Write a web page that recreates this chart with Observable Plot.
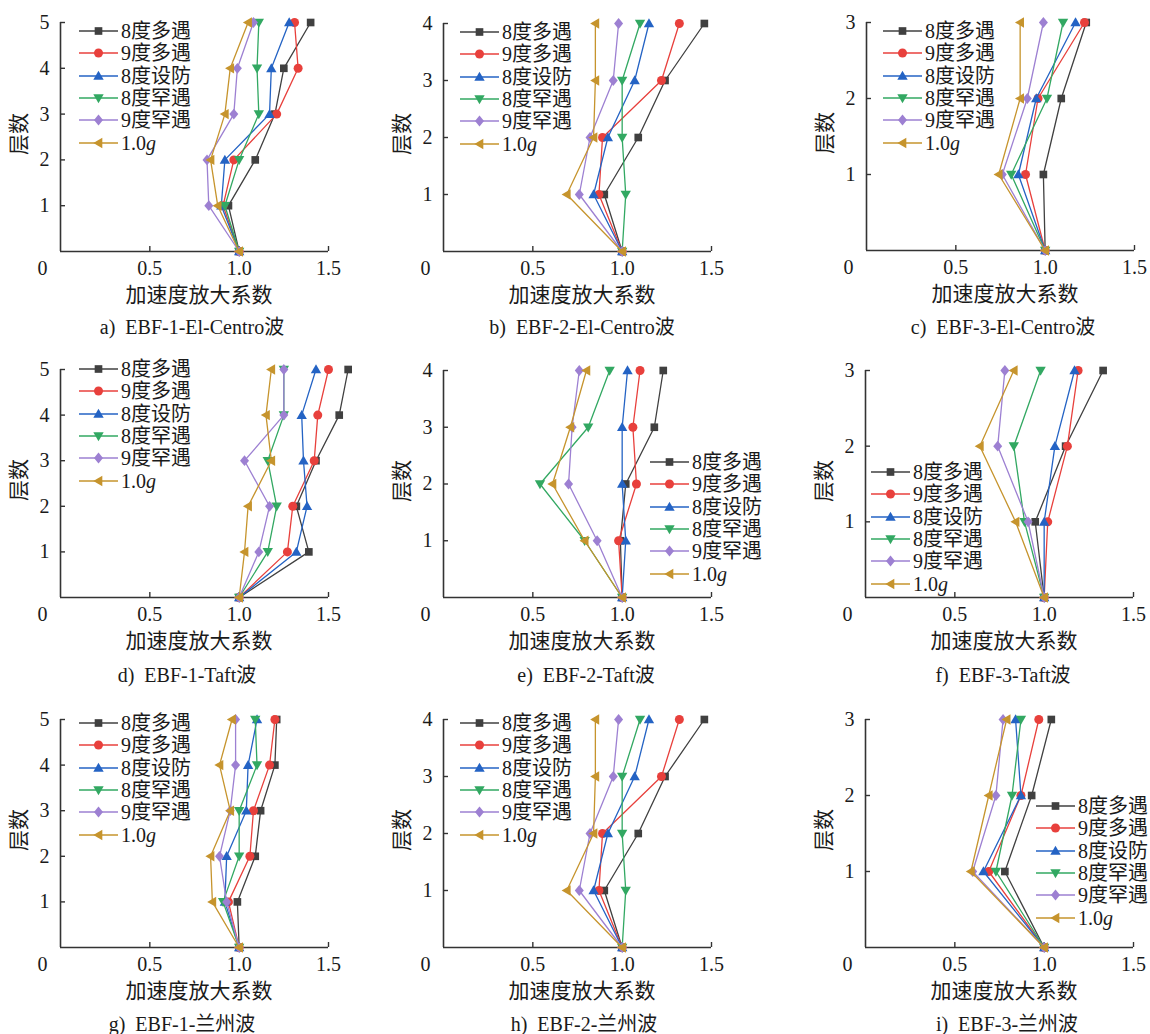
<!DOCTYPE html>
<html><head><meta charset="utf-8">
<script src="https://cdn.jsdelivr.net/npm/d3@7"></script>
<script src="https://cdn.jsdelivr.net/npm/@observablehq/plot@0.6"></script>
<style>
html,body{margin:0;padding:0;background:#fff;overflow:hidden;}
#root{position:relative;width:1150px;height:1034px;overflow:hidden;font-family:"Liberation Serif","Noto Sans CJK SC",serif;color:#1a1a1a;}
.lbl{position:absolute;white-space:pre;transform:translate(-50%,-50%);line-height:1;}
.ylbl{position:absolute;white-space:nowrap;transform:translate(-50%,-50%) rotate(-90deg);font-size:21px;line-height:1;}
.legend{position:absolute;font-size:20px;}
.legrow{display:flex;align-items:center;height:22.3px;white-space:nowrap;}
.legrow span{margin-left:3px;line-height:1;}
.plotwrap{position:absolute;}
.plotwrap svg{overflow:visible;max-width:none !important;}
</style></head><body><div id="root"></div>
<script>
// ---------- data ----------
const series = ["8度多遇", "9度多遇", "8度设防", "8度罕遇", "9度罕遇", "1.0g"];
const xTicks = [0.5, 1.0, 1.5];
const xLabel = "加速度放大系数";
const yLabel = "层数";
const captions = [
  "a)  EBF-1-El-Centro波", "b)  EBF-2-El-Centro波", "c)  EBF-3-El-Centro波",
  "d)  EBF-1-Taft波", "e)  EBF-2-Taft波", "f)  EBF-3-Taft波",
  "g)  EBF-1-兰州波", "h)  EBF-2-兰州波", "i)  EBF-3-兰州波"
];
// rows follow `series`; columns are floor 0, 1, 2, ...
const ebf1ElCentro = [
  [1.0, 0.94, 1.09, 1.20, 1.25, 1.40],
  [1.0, 0.91, 0.97, 1.21, 1.33, 1.31],
  [1.0, 0.90, 0.92, 1.17, 1.18, 1.28],
  [1.0, 0.92, 1.00, 1.11, 1.10, 1.11],
  [1.0, 0.83, 0.82, 0.97, 0.99, 1.08],
  [1.0, 0.88, 0.84, 0.92, 0.95, 1.05]
];
const ebf2ElCentro = [
  [1.0, 0.90, 1.09, 1.24, 1.46],
  [1.0, 0.87, 0.89, 1.22, 1.32],
  [1.0, 0.84, 0.92, 1.07, 1.15],
  [1.0, 1.02, 1.00, 1.00, 1.10],
  [1.0, 0.76, 0.82, 0.95, 0.98],
  [1.0, 0.69, 0.84, 0.85, 0.85]
];
const ebf3ElCentro = [
  [1.0, 0.99, 1.09, 1.23],
  [1.0, 0.89, 0.96, 1.22],
  [1.0, 0.85, 0.95, 1.17],
  [1.0, 0.81, 1.01, 1.10],
  [1.0, 0.76, 0.90, 0.99],
  [1.0, 0.74, 0.86, 0.86]
];
const ebf1Taft = [
  [1.0, 1.39, 1.32, 1.43, 1.56, 1.61],
  [1.0, 1.27, 1.30, 1.42, 1.44, 1.50],
  [1.0, 1.32, 1.38, 1.36, 1.35, 1.43],
  [1.0, 1.16, 1.21, 1.16, 1.25, 1.25],
  [1.0, 1.11, 1.17, 1.03, 1.25, 1.25],
  [1.0, 1.03, 1.05, 1.18, 1.15, 1.18]
];
const ebf2Taft = [
  [1.0, 0.99, 1.02, 1.18, 1.23],
  [1.0, 0.98, 1.08, 1.06, 1.10],
  [1.0, 1.02, 1.00, 1.00, 1.03],
  [1.0, 0.79, 0.54, 0.81, 0.93],
  [1.0, 0.86, 0.70, 0.72, 0.76],
  [1.0, 0.79, 0.61, 0.71, 0.80]
];
const ebf3Taft = [
  [1.0, 0.95, 1.12, 1.33],
  [1.0, 1.02, 1.13, 1.19],
  [1.0, 1.00, 1.06, 1.17],
  [1.0, 0.89, 0.83, 0.98],
  [1.0, 0.91, 0.74, 0.78],
  [1.0, 0.84, 0.64, 0.83]
];
const ebf1Lanzhou = [
  [1.0, 0.99, 1.09, 1.12, 1.20, 1.21],
  [1.0, 0.94, 1.06, 1.08, 1.17, 1.20],
  [1.0, 0.92, 0.93, 1.04, 1.05, 1.10],
  [1.0, 0.91, 1.00, 1.00, 1.10, 1.09],
  [1.0, 0.93, 0.89, 0.95, 0.98, 0.98],
  [1.0, 0.85, 0.84, 0.95, 0.89, 0.96]
];
const ebf2Lanzhou = [
  [1.0, 0.90, 1.09, 1.24, 1.46],
  [1.0, 0.87, 0.89, 1.22, 1.32],
  [1.0, 0.84, 0.92, 1.07, 1.15],
  [1.0, 1.02, 1.00, 1.00, 1.10],
  [1.0, 0.76, 0.82, 0.95, 0.98],
  [1.0, 0.69, 0.84, 0.85, 0.85]
];
const ebf3Lanzhou = [
  [1.0, 0.78, 0.93, 1.04],
  [1.0, 0.69, 0.87, 0.97],
  [1.0, 0.66, 0.87, 0.84],
  [1.0, 0.73, 0.82, 0.87],
  [1.0, 0.60, 0.73, 0.77],
  [1.0, 0.59, 0.69, 0.79]
];

// ---------- styles ----------
const seriesColors = ["#404040", "#e8403c", "#2463c4", "#32a862", "#9d80d2", "#c6942d"];
const mk = (pts) => ({draw(ctx, size) {
  const r = Math.sqrt(size / Math.PI);
  ctx.moveTo(pts[0][0] * r, pts[0][1] * r);
  for (let k = 1; k < pts.length; k++) ctx.lineTo(pts[k][0] * r, pts[k][1] * r);
  ctx.closePath();
}});
const symCircle = {draw(ctx, size) { const r = Math.sqrt(size / Math.PI); ctx.moveTo(r, 0); ctx.arc(0, 0, r, 0, 2 * Math.PI); }};
const symbols = [
  mk([[-0.85,-0.85],[0.85,-0.85],[0.85,0.85],[-0.85,0.85]]),
  symCircle,
  mk([[0,-1.15],[1.15,0.85],[-1.15,0.85]]),
  mk([[0,1.15],[1.15,-0.85],[-1.15,-0.85]]),
  mk([[0,-1.2],[1,0],[0,1.2],[-1,0]]),
  mk([[-1.15,0],[0.85,-1.15],[0.85,1.15]])
];
const R = 4.5;
const FONT = '"Liberation Serif","Noto Sans CJK SC",serif';

// ---------- layout ----------
const layout = [
  {values: ebf1ElCentro, x0: 60,  top: 22,  axis: 251, legend: [19, 9],   caption: [192, 327]},
  {values: ebf2ElCentro, x0: 443, top: 23,  axis: 251, legend: [17, 9],   caption: [582, 327]},
  {values: ebf3ElCentro, x0: 866, top: 22,  axis: 250, legend: [17, 9],   caption: [1003, 327]},
  {values: ebf1Taft,     x0: 60,  top: 369, axis: 597, legend: [19, 0],   caption: [187, 675]},
  {values: ebf2Taft,     x0: 443, top: 370, axis: 597, legend: [207, 92], caption: [586, 675]},
  {values: ebf3Taft,     x0: 865, top: 370, axis: 597, legend: [6, 102],  caption: [1003, 675]},
  {values: ebf1Lanzhou,  x0: 60,  top: 719, axis: 947, legend: [19, 4],   caption: [182, 1024]},
  {values: ebf2Lanzhou,  x0: 443, top: 719, axis: 947, legend: [17, 4],   caption: [584, 1024]},
  {values: ebf3Lanzhou,  x0: 865, top: 719, axis: 947, legend: [171, 87], caption: [1007, 1024]}
];
const PW = 268;
const root = document.getElementById("root");

function add(cls, html, x, y, size) {
  const d = document.createElement("div");
  d.className = cls;
  d.innerHTML = html;
  d.style.left = x + "px";
  d.style.top = y + "px";
  if (size) d.style.fontSize = size + "px";
  root.appendChild(d);
  return d;
}

layout.forEach((p, i) => {
  const N = p.values[0].length - 1;
  const rows = [];
  p.values.forEach((vals, s) => vals.forEach((v, lvl) => rows.push({s, level: lvl, value: v})));
  const mL = 60, mT = 12, mR = 30, mB = 40;
  const H = p.axis - p.top;
  const marks = [
    Plot.ruleY([0], {stroke: "#333", strokeWidth: 1.6}),
    Plot.ruleX([0], {y1: 0, y2: N, stroke: "#333", strokeWidth: 1.6}),
    Plot.axisX({ticks: xTicks, tickFormat: d => d.toFixed(1), tickSize: -5, tickPadding: 14, fontSize: 20, stroke: "#333", strokeWidth: 1.4, label: null}),
    Plot.axisY({ticks: d3.range(1, N + 1), tickFormat: d => String(d), tickSize: -5, tickPadding: 16, fontSize: 20, stroke: "#333", strokeWidth: 1.4, label: null}),
    Plot.text([0], {x: 0, y: 0, text: () => "0", dx: -18, dy: 17, fontSize: 20, fill: "#1a1a1a"})
  ];
  series.forEach((name, s) => {
    const d = rows.filter(r => r.s === s);
    marks.push(Plot.line(d, {x: "value", y: "level", stroke: seriesColors[s], strokeWidth: 1.3}));
    marks.push(Plot.dot(d, {x: "value", y: "level", symbol: symbols[s], fill: seriesColors[s], stroke: "none", r: R}));
  });
  const W = mL + PW + mR;
  const svg = Plot.plot({
    width: W, height: mT + H + mB,
    marginLeft: mL, marginTop: mT, marginRight: mR, marginBottom: mB,
    x: {domain: [0, 1.5], label: null}, y: {domain: [0, N], label: null},
    style: {fontFamily: FONT, fontSize: "20px", color: "#1a1a1a", background: "transparent", overflow: "visible", maxWidth: "none"},
    marks
  });
  const wrap = document.createElement("div");
  wrap.className = "plotwrap";
  wrap.style.left = (p.x0 - mL) + "px";
  wrap.style.top = (p.top - mT) + "px";
  wrap.style.width = W + "px";
  wrap.appendChild(svg);
  root.appendChild(wrap);

  // axis titles & caption
  add("lbl", xLabel, p.x0 + 139, p.axis + 44, 21);
  add("ylbl", yLabel, p.x0 - 41, p.top + H / 2 - 3);
  add("lbl", captions[i], p.caption[0], p.caption[1], 20);

  // legend
  const lg = document.createElement("div");
  lg.className = "legend";
  lg.style.left = (p.x0 + p.legend[0]) + "px";
  lg.style.top = (p.top + p.legend[1] - 11) + "px";
  series.forEach((name, s) => {
    const path = d3.path();
    symbols[s].draw(path, Math.PI * R * R);
    const label = name === "1.0g" ? "1.0<i>g</i>" : name;
    const row = document.createElement("div");
    row.className = "legrow";
    row.innerHTML = `<svg width="39" height="22" style="overflow:visible"><line x1="0" x2="39" y1="11" y2="11" stroke="${seriesColors[s]}" stroke-width="1.3"/><path transform="translate(19.5,11)" d="${path.toString()}" fill="${seriesColors[s]}"/></svg><span>${label}</span>`;
    lg.appendChild(row);
  });
  root.appendChild(lg);
});
</script></body></html>
